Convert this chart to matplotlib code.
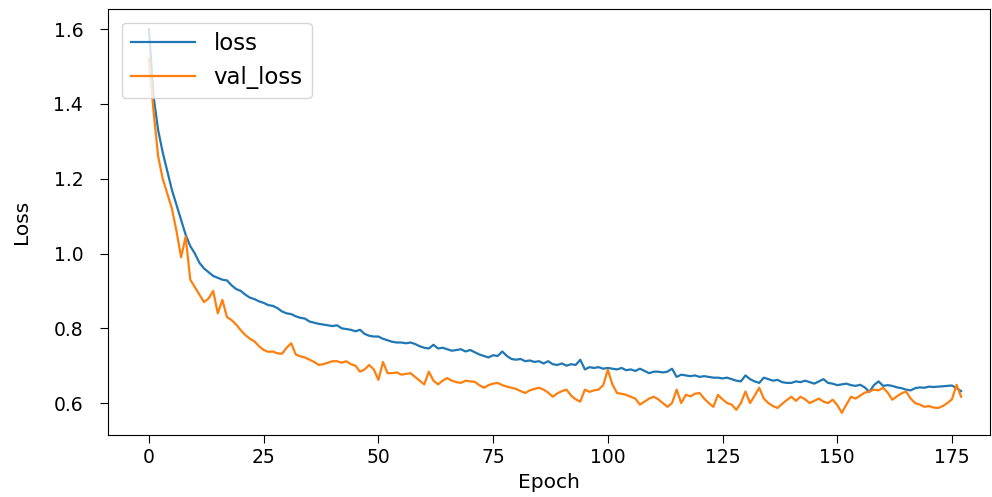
import numpy as np
from matplotlib import pyplot as plt

# training history, one value per epoch (0..177)
loss = [
    1.60, 1.42, 1.33, 1.27, 1.22, 1.17, 1.13, 1.09, 1.05, 1.02,
    1.00, 0.975, 0.960, 0.950, 0.940, 0.935, 0.930, 0.928, 0.915, 0.905,
    0.900, 0.890, 0.882, 0.878, 0.872, 0.868, 0.862, 0.860, 0.854, 0.845,
    0.840, 0.838, 0.832, 0.828, 0.826, 0.818, 0.815, 0.812, 0.810, 0.808,
    0.806, 0.808, 0.800, 0.798, 0.796, 0.792, 0.796, 0.785, 0.780, 0.778,
    0.778, 0.772, 0.768, 0.764, 0.762, 0.762, 0.760, 0.762, 0.758, 0.752,
    0.748, 0.746, 0.756, 0.746, 0.748, 0.744, 0.740, 0.742, 0.744, 0.738,
    0.742, 0.736, 0.730, 0.726, 0.722, 0.728, 0.726, 0.738, 0.726, 0.718,
    0.716, 0.718, 0.712, 0.714, 0.710, 0.712, 0.706, 0.712, 0.704, 0.702,
    0.706, 0.700, 0.704, 0.702, 0.716, 0.690, 0.696, 0.694, 0.696, 0.692,
    0.694, 0.692, 0.690, 0.694, 0.688, 0.690, 0.686, 0.692, 0.686, 0.680,
    0.684, 0.684, 0.682, 0.684, 0.692, 0.670, 0.676, 0.674, 0.672, 0.674,
    0.670, 0.672, 0.670, 0.668, 0.668, 0.666, 0.668, 0.664, 0.660, 0.658,
    0.674, 0.664, 0.658, 0.654, 0.668, 0.664, 0.660, 0.662, 0.656, 0.654,
    0.654, 0.658, 0.656, 0.660, 0.656, 0.652, 0.658, 0.664, 0.654, 0.652,
    0.648, 0.650, 0.652, 0.648, 0.646, 0.649, 0.642, 0.630, 0.648, 0.658,
    0.646, 0.648, 0.646, 0.642, 0.640, 0.636, 0.634, 0.640, 0.642, 0.641,
    0.644, 0.643, 0.644, 0.645, 0.646, 0.647, 0.640, 0.632,
]
val_loss = [
    1.52, 1.38, 1.26, 1.20, 1.16, 1.12, 1.06, 0.99, 1.045, 0.93,
    0.91, 0.89, 0.87, 0.88, 0.90, 0.84, 0.876, 0.83, 0.822, 0.81,
    0.795, 0.782, 0.772, 0.765, 0.752, 0.742, 0.737, 0.738, 0.733, 0.732,
    0.748, 0.760, 0.730, 0.725, 0.722, 0.716, 0.710, 0.702, 0.704, 0.708,
    0.712, 0.712, 0.708, 0.712, 0.704, 0.700, 0.684, 0.690, 0.702, 0.690,
    0.662, 0.710, 0.680, 0.680, 0.682, 0.676, 0.678, 0.680, 0.670, 0.660,
    0.650, 0.684, 0.660, 0.650, 0.660, 0.667, 0.660, 0.656, 0.654, 0.660,
    0.658, 0.657, 0.648, 0.641, 0.648, 0.652, 0.654, 0.648, 0.644, 0.641,
    0.638, 0.632, 0.627, 0.634, 0.638, 0.641, 0.636, 0.628, 0.617, 0.626,
    0.632, 0.636, 0.620, 0.610, 0.604, 0.636, 0.630, 0.634, 0.636, 0.648,
    0.689, 0.650, 0.627, 0.625, 0.622, 0.617, 0.612, 0.596, 0.604, 0.612,
    0.617, 0.610, 0.600, 0.590, 0.600, 0.636, 0.600, 0.622, 0.618, 0.625,
    0.627, 0.612, 0.600, 0.590, 0.622, 0.610, 0.600, 0.596, 0.582, 0.600,
    0.631, 0.600, 0.620, 0.641, 0.612, 0.600, 0.592, 0.587, 0.598, 0.608,
    0.617, 0.606, 0.617, 0.610, 0.600, 0.606, 0.612, 0.604, 0.600, 0.609,
    0.595, 0.574, 0.596, 0.617, 0.612, 0.620, 0.628, 0.631, 0.636, 0.634,
    0.641, 0.628, 0.609, 0.618, 0.626, 0.631, 0.612, 0.600, 0.596, 0.590,
    0.592, 0.588, 0.587, 0.592, 0.600, 0.610, 0.649, 0.617,
]
epochs = np.arange(len(loss))

fig = plt.figure(figsize=(9.92, 4.97), dpi=100)
ax = fig.add_axes([0.109, 0.125, 0.889, 0.857])
ax.plot(epochs, loss, color='#1f77b4', linewidth=1.6, label='loss')
ax.plot(epochs, val_loss, color='#ff7f0e', linewidth=1.6, label='val_loss')
ax.set_xlim(-8.9, 183.3)
ax.set_ylim(0.515, 1.654)
ax.set_xticks([0, 25, 50, 75, 100, 125, 150, 175])
ax.set_yticks([0.6, 0.8, 1.0, 1.2, 1.4, 1.6])
ax.tick_params(labelsize=13.5, length=6)
ax.tick_params(axis='y', pad=12)
ax.set_xlabel('Epoch', fontsize=14.5)
ax.set_ylabel('Loss', fontsize=14.5, labelpad=16)
ax.legend(loc='upper left', fontsize=16.5, handlelength=2.8,
          borderaxespad=0.6)
fig.savefig('out.png', dpi=100)
